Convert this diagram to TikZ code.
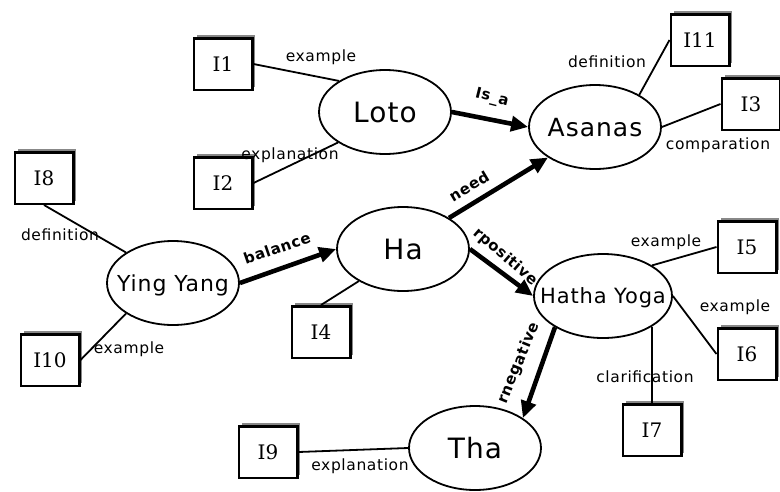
\documentclass[tikz,border=0pt]{standalone}
\usepackage{fontspec}
\setmainfont{DejaVu Sans}
\newfontfamily\boxfont{DejaVu Serif}
\newfontfamily\spacedfont[LetterSpace=4]{DejaVu Sans}
\usetikzlibrary{arrows.meta, shapes.geometric, shadows}
\definecolor{shadowgray}{HTML}{888888}
\newcommand{\ctext}[1]{\makebox[0pt][c]{#1}}

\tikzset{
  concept/.style={ellipse, draw, line width=1.8pt, minimum width=132pt, minimum height=84pt,
    inner sep=0pt, text depth=0pt},
  item/.style={draw, line width=2.5pt, minimum width=58.5pt, minimum height=51.5pt, fill=white,
    font=\boxfont\fontsize{20}{24}\selectfont,
    drop shadow={shadow xshift=3pt, shadow yshift=3pt, fill=shadowgray, opacity=1}},
  link/.style={line width=1.8pt},
  rel/.style={line width=4.6pt, -{Triangle[length=17pt,width=15pt]}},
  lbl/.style={font=\spacedfont\fontsize{15.5}{18}\selectfont, inner sep=0pt},
  rellbl/.style={font=\spacedfont\bfseries\fontsize{15}{18}\selectfont, inner sep=0pt},
}

\begin{document}
\begin{tikzpicture}[x=1pt, y=-1pt]
  \useasboundingbox (0,0) rectangle (780,491);
  % concepts
  \node[concept, font=\spacedfont\fontsize{28}{32}\selectfont] (loto) at (385,112) {\ctext{Loto}};
  \node[concept, font=\spacedfont\fontsize{25}{30}\selectfont] (asanas) at (595,127) {\ctext{Asanas}};
  \node[concept, font=\spacedfont\fontsize{22}{26}\selectfont] (yy) at (173,283) {\ctext{Ying Yang}};
  \node[concept, font=\spacedfont\fontsize{28}{32}\selectfont] (ha) at (403,249) {\ctext{Ha}};
  \node[concept, minimum width=138pt, font=\spacedfont\fontsize{21}{25}\selectfont] (hatha) at (603,296) {\ctext{Hatha Yoga}};
  \node[concept, font=\spacedfont\fontsize{28}{32}\selectfont] (tha) at (475,448) {\ctext{Tha}};
  % items
  \foreach \nm/\x/\y in {I1/223/64, I2/223/183, I11/700/40, I3/751/104, I8/44/178, I10/50/360,
      I4/321/332, I5/747/247, I6/747/354, I7/652/430, I9/268/452}
    \node[item] (\nm) at (\x,\y) {\nm};
  % plain links
  \foreach \a/\b in {I1.east/loto.146, I2.east/loto.213, I8.south/yy.147, I10.east/yy.213,
      I4.north/ha.216, I11.west/asanas.36, I3.west/asanas.east, I5.west/hatha.32,
      I6.west/hatha.east, I9.east/tha.west}
    \draw[link] (\a) -- (\b);
  \draw[link] (hatha.328) -- (hatha.328 |- I7.north);
  % relations
  \draw[rel] (loto.east) -- (asanas.west);
  \draw[rel] (ha.34) -- (asanas.213);
  \draw[rel] (yy.east) -- (ha.west);
  \draw[rel] (ha.east) -- (hatha.west);
  \draw[rel] (hatha.213) -- (tha.32);
  % link labels
  \foreach \nm/\x/\y/\txt in {lI1/321/57/example, lI2/290/155/explanation, lI8/60/235/definition,
      lI10/129/349/example, lI11/607/62/definition, lI3/718/145/comparation, lI5/666/242/example,
      lI6/735/307/example, lI7/645/377/clarification, lI9/360/466/explanation}
    \node[lbl] (\nm) at (\x,\y) {\txt};
  % relation labels
  \node[rellbl, rotate=-14] (lisa) at (492,98) {Is\_a};
  \node[rellbl, rotate=31] (lneed) at (469,186) {need};
  \node[rellbl, rotate=19] (lbal) at (277,248) {balance};
  \node[rellbl, rotate=-41] (lpos) at (505,257) {rpositive};
  \node[rellbl, rotate=68] (lneg) at (519,363) {rnegative};
\end{tikzpicture}
\end{document}
